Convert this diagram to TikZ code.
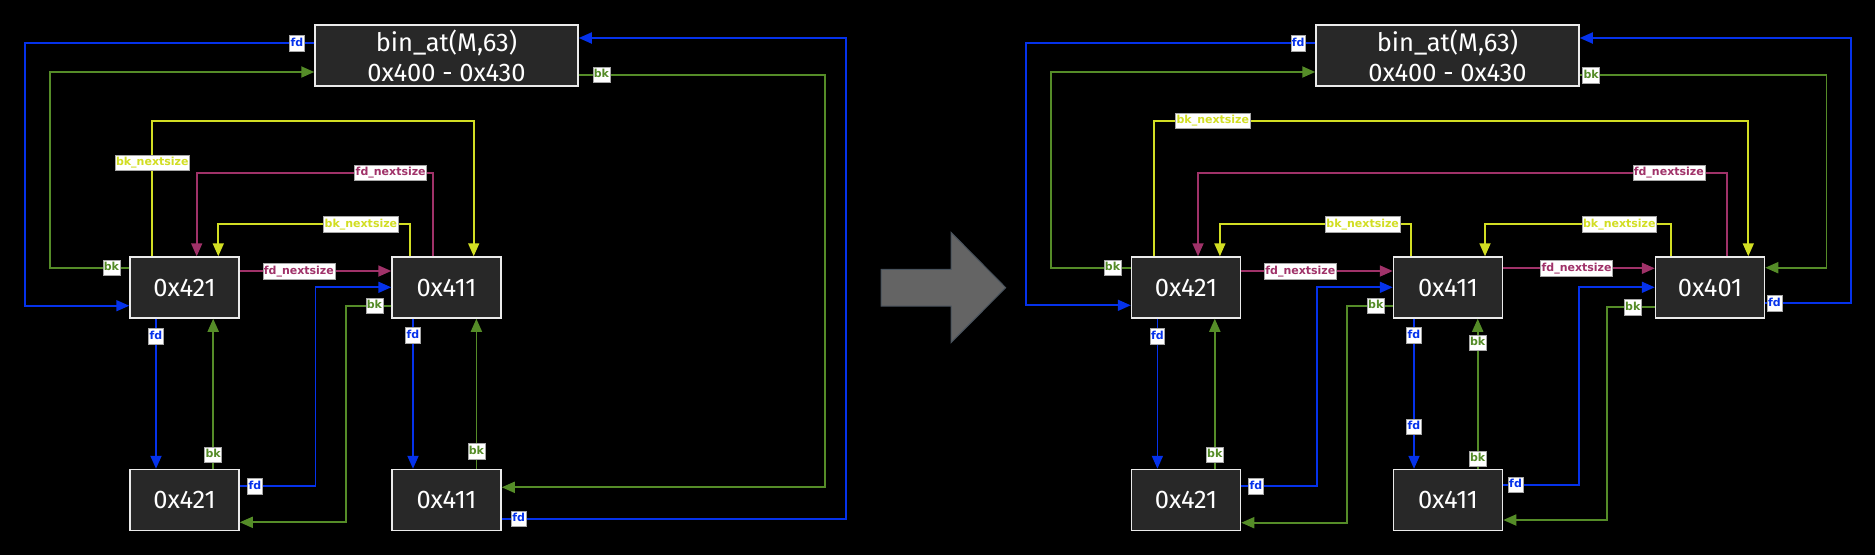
\documentclass[tikz,border=0pt]{standalone}
\usepackage{fontspec}
\setmainfont{Fira Sans}
\newfontfamily\labfont{DejaVu Sans}
\usepackage{xcolor}
\usepackage{tikz}
\usetikzlibrary{arrows.meta,calc}

\definecolor{fdblue}{RGB}{5,50,235}
\definecolor{bkgreen}{RGB}{85,140,40}
\definecolor{nsyellow}{RGB}{210,222,35}
\definecolor{nsmagenta}{RGB}{160,50,105}
\definecolor{boxgray}{RGB}{40,40,40}
\definecolor{bigarrow}{RGB}{100,100,100}
\definecolor{arrowedge}{RGB}{72,82,92}

\tikzset{
    chunk/.style={draw=white!92!black, line width=1.5pt, fill=boxgray, text=white, minimum width=109pt, minimum height=61pt, inner sep=0pt, font=\fontsize{25.5}{30}\selectfont},
    link/.style={line width=1.8pt, -{Triangle[length=13pt,width=11pt]}},
    fdl/.style={link, fdblue},
    bkl/.style={link, bkgreen},
    fdns/.style={link, nsmagenta},
    bkns/.style={link, nsyellow},
    lab/.style={fill=white, draw=gray!70, line width=0.6pt, font=\labfont\bfseries\fontsize{11}{13}\selectfont, inner xsep=1pt, inner ysep=2.5pt, text height=8.5pt, text depth=2.3pt}
}

\begin{document}
\begin{tikzpicture}[x=1pt, y=-1pt]
    \fill[black] (0,0) rectangle (1875,555);
    \useasboundingbox (0,0) rectangle (1875,555);

    \node[chunk, minimum width=263pt, align=center] (binL) at (446.5,55.5) {bin\_at(M,63)\\0x400 - 0x430};
    \node[chunk] (aL) at (184.5,287.5) {0x421};
    \node[chunk] (bL) at (446.5,287.5) {0x411};
    \node[chunk] (cL) at (184.5,500) {0x421};
    \node[chunk] (dL) at (446.5,500) {0x411};

    \draw[fdl] (binL.west |- 0,43.3) -- node[lab, pos=0.06] {fd} (25,43.3) -- (25,305.7) -- (aL.west |- 0,305.7);
    \draw[bkl] (aL.west |- 0,267.7) -- node[lab, pos=0.225] {bk} (50,267.7) -- (50,72) -- (binL.west |- 0,72);
    \draw[bkns] (152.3,0 |- aL.north) -- node[lab, pos=0.69] {bk\_nextsize} (152.3,120.7) -- (473.7,120.7) -- (473.7,0 |- bL.north);
    \draw[fdns] (433.3,0 |- bL.north) -- (433.3,172.7) -- node[lab, pos=0.18] {fd\_nextsize} (196.7,172.7) -- (196.7,0 |- aL.north);
    \draw[bkns] (410,0 |- bL.north) -- (410,224) -- node[lab, pos=0.256] {bk\_nextsize} (218.3,224) -- (218.3,0 |- aL.north);
    \draw[fdns] (aL.east |- 0,271) -- node[lab, pos=0.39] {fd\_nextsize} (bL.west |- 0,271);
    \draw[fdl] (cL.east |- 0,486.3) -- node[lab, pos=0.2] {fd} (315.4,486.3) -- (315.4,287.3) -- (bL.west |- 0,287.3);
    \draw[bkl] (bL.west |- 0,305.7) -- node[lab, pos=0.37] {bk} (345.7,305.7) -- (345.7,522.3) -- (cL.east |- 0,522.3);
    \draw[fdl] (156,0 |- aL.south) -- node[lab, pos=0.115] {fd} (156,0 |- cL.north);
    \draw[bkl] (213.2,0 |- cL.north) -- node[lab, pos=0.093] {bk} (213.2,0 |- aL.south);
    \draw[fdl] (413,0 |- bL.south) -- node[lab, pos=0.108] {fd} (413,0 |- dL.north);
    \draw[bkl] (476.4,0 |- dL.north) -- node[lab, pos=0.117] {bk} (476.4,0 |- bL.south);
    \draw[bkl] (binL.east |- 0,74.7) -- node[lab, pos=0.092] {bk} (825.3,74.7) -- (825.3,487.3) -- (dL.east |- 0,487.3);
    \draw[fdl] (dL.east |- 0,518.7) -- node[lab, pos=0.049] {fd} (846,518.7) -- (846,38) -- (binL.east |- 0,38);

    \filldraw[fill=bigarrow, draw=arrowedge, line width=1pt] (881,269.3) -- (951,269.3) -- (951,232.3) -- (1005.7,287.7) -- (951,342.7) -- (951,306) -- (881,306) -- cycle;

    \node[chunk, minimum width=263pt, align=center] (binR) at (1447.5,55.5) {bin\_at(M,63)\\0x400 - 0x430};
    \node[chunk] (aR) at (1186,287.5) {0x421};
    \node[chunk] (bR) at (1448,287.5) {0x411};
    \node[chunk] (eR) at (1710,287.5) {0x401};
    \node[chunk] (cR) at (1186,500) {0x421};
    \node[chunk] (dR) at (1448,500) {0x411};

    \draw[fdl] (binR.west |- 0,43.3) -- node[lab, pos=0.059] {fd} (1026.2,43.3) -- (1026.2,305.3) -- (aR.west |- 0,305.3);
    \draw[bkl] (aR.west |- 0,267.7) -- node[lab, pos=0.23] {bk} (1051.3,267.7) -- (1051.3,72) -- (binR.west |- 0,72);
    \draw[bkns] (1154,0 |- aR.north) -- (1154,120.7) -- node[lab, pos=0.099] {bk\_nextsize} (1748.3,120.7) -- (1748.3,0 |- eR.north);
    \draw[fdns] (1727,0 |- eR.north) -- (1727,172.7) -- node[lab, pos=0.11] {fd\_nextsize} (1198,172.7) -- (1198,0 |- aR.north);
    \draw[bkns] (1411.3,0 |- bR.north) -- (1411.3,224) -- node[lab, pos=0.254] {bk\_nextsize} (1219.9,224) -- (1219.9,0 |- aR.north);
    \draw[bkns] (1671.3,0 |- eR.north) -- (1671.3,224) -- node[lab, pos=0.279] {bk\_nextsize} (1485,224) -- (1485,0 |- bR.north);
    \draw[fdns] (aR.east |- 0,271) -- node[lab, pos=0.39] {fd\_nextsize} (bR.west |- 0,271);
    \draw[fdns] (bR.east |- 0,268.3) -- node[lab, pos=0.484] {fd\_nextsize} (eR.west |- 0,268.3);
    \draw[bkl] (binR.east |- 0,75) -- node[lab, pos=0.046] {bk} (1826.5,75) -- (1826.5,267.7) -- (eR.east |- 0,267.7);
    \draw[fdl] (eR.east |- 0,303.3) -- node[lab, pos=0.108] {fd} (1851,303.3) -- (1851,38) -- (binR.east |- 0,38);
    \draw[fdl] (1157.4,0 |- aR.south) -- node[lab, pos=0.115] {fd} (1157.4,0 |- cR.north);
    \draw[bkl] (1214.8,0 |- cR.north) -- node[lab, pos=0.093] {bk} (1214.8,0 |- aR.south);
    \draw[fdl] (cR.east |- 0,486.3) -- node[lab, pos=0.195] {fd} (1317,486.3) -- (1317,287.3) -- (bR.west |- 0,287.3);
    \draw[bkl] (bR.west |- 0,305.7) -- node[lab, pos=0.37] {bk} (1347,305.7) -- (1347,522.7) -- (cR.east |- 0,522.7);
    \draw[fdl] (1414,0 |- bR.south) -- node[lab, pos=0.108] {fd} node[lab, pos=0.72] {fd} (1414,0 |- dR.north);
    \draw[bkl] (1477.7,0 |- dR.north) -- node[lab, pos=0.066] {bk} node[lab, pos=0.84] {bk} (1477.7,0 |- bR.south);
    \draw[fdl] (dR.east |- 0,484.7) -- node[lab, pos=0.163] {fd} (1578.7,484.7) -- (1578.7,287.3) -- (eR.west |- 0,287.3);
    \draw[bkl] (eR.west |- 0,307.3) -- node[lab, pos=0.46] {bk} (1607,307.3) -- (1607,520) -- (dR.east |- 0,520);
\end{tikzpicture}
\end{document}
